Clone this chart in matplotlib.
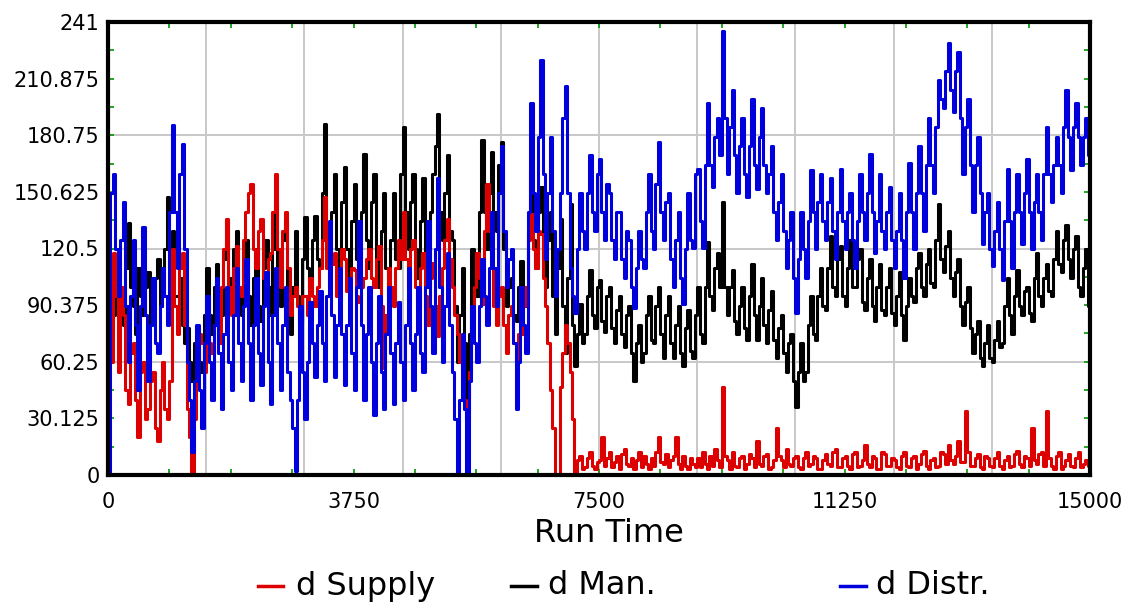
import numpy as np
import matplotlib.pyplot as plt
from matplotlib.lines import Line2D
from matplotlib.ticker import MultipleLocator, FixedLocator

# sample times (one value every 37.5 time units)
run_time = np.arange(0, 15000.1, 37.5)

# values, one row per grid cell of 1500 (40 values each) + final point
d_supply = [
    90, 60, 118, 95, 55, 100, 85, 45, 38, 65, 70, 40, 20, 55, 60, 30, 35, 50, 55, 25, 18, 45, 60, 35, 30, 50, 120, 90, 75, 110, 118, 80, 35, 20, 0, 30, 60, 75, 70, 55,
    80, 70, 65, 80, 82, 70, 100, 120, 136, 100, 85, 110, 122, 100, 95, 125, 140, 150, 155, 120, 110, 130, 136, 105, 95, 115, 118, 140, 160, 120, 100, 130, 140, 110, 85, 95, 100, 90, 82, 95,
    95, 85, 105, 95, 90, 100, 110, 125, 148, 110, 100, 112, 118, 95, 105, 120, 115, 98, 100, 110, 109, 95, 92, 100, 105, 115, 120, 105, 100, 115, 122, 90, 57, 85, 110, 100, 90, 110, 125, 115,
    140, 115, 100, 120, 125, 100, 90, 110, 118, 95, 80, 105, 113, 90, 74, 95, 110, 125, 136, 115, 100, 85, 75, 60, 50, 40, 29, 55, 80, 100, 118, 105, 91, 130, 155, 130, 110, 90, 80, 95,
    100, 80, 65, 85, 90, 70, 60, 75, 75, 90, 100, 125, 139, 120, 110, 130, 128, 105, 90, 70, 45, 25, 0, 0, 47, 65, 80, 70, 55, 30, 0, 8, 10, 3, 4, 9, 12, 5, 3, 7,
    8, 20, 5, 9, 12, 4, 7, 10, 3, 11, 14, 6, 5, 9, 3, 8, 12, 4, 10, 6, 3, 9, 5, 12, 20, 7, 6, 11, 4, 8, 10, 20, 6, 3, 10, 5, 3, 9, 6, 4,
    9, 4, 12, 6, 3, 10, 5, 14, 8, 4, 47, 10, 8, 3, 12, 5, 4, 9, 10, 3, 6, 11, 9, 4, 18, 6, 5, 10, 11, 3, 4, 8, 25, 10, 8, 4, 14, 6, 5, 9,
    10, 4, 3, 9, 12, 5, 6, 10, 9, 3, 3, 8, 11, 6, 5, 12, 14, 4, 4, 9, 10, 5, 3, 11, 12, 4, 5, 8, 16, 6, 4, 10, 9, 3, 3, 12, 11, 5, 5, 9,
    8, 4, 3, 10, 12, 5, 4, 9, 10, 3, 6, 11, 13, 5, 3, 8, 9, 4, 5, 12, 11, 6, 16, 8, 6, 10, 18, 7, 7, 34, 12, 5, 5, 9, 11, 4, 3, 10, 9, 5,
    4, 9, 12, 5, 3, 8, 10, 4, 5, 11, 13, 6, 4, 10, 9, 5, 25, 8, 6, 11, 12, 5, 34, 9, 5, 3, 10, 12, 3, 5, 8, 11, 5, 4, 9, 12, 4, 6, 8, 5,
    25]
d_man = [
    100, 75, 85, 105, 115, 90, 80, 110, 134, 100, 90, 75, 110, 95, 85, 100, 108, 80, 88, 105, 115, 90, 95, 120, 148, 110, 130, 95, 95, 105, 80, 70, 78, 60, 50, 70, 75, 60, 55, 85,
    110, 85, 75, 100, 112, 90, 85, 115, 135, 105, 90, 120, 130, 100, 85, 110, 125, 95, 80, 105, 120, 90, 82, 110, 125, 100, 85, 120, 145, 110, 90, 125, 135, 95, 75, 100, 130, 95, 80, 115,
    137, 110, 100, 125, 138, 115, 110, 150, 187, 130, 115, 140, 160, 120, 110, 145, 164, 120, 105, 135, 155, 115, 100, 140, 171, 125, 110, 145, 160, 115, 100, 130, 150, 110, 95, 125, 150, 115, 110, 160,
    185, 140, 120, 145, 160, 120, 105, 135, 158, 115, 100, 140, 160, 175, 192, 140, 125, 150, 170, 130, 125, 90, 60, 85, 110, 70, 40, 75, 120, 100, 95, 140, 178, 140, 120, 150, 172, 140, 130, 165,
    177, 120, 90, 100, 105, 85, 82, 100, 114, 95, 90, 130, 162, 125, 110, 140, 153, 115, 100, 125, 140, 95, 75, 110, 136, 90, 65, 105, 144, 80, 58, 75, 91, 70, 75, 95, 109, 85, 78, 100,
    104, 82, 76, 95, 100, 78, 70, 88, 95, 75, 68, 85, 90, 65, 50, 70, 80, 60, 65, 85, 95, 72, 70, 90, 100, 75, 62, 85, 95, 70, 62, 80, 90, 65, 58, 78, 88, 66, 62, 85,
    100, 75, 70, 100, 124, 95, 88, 110, 118, 100, 145, 100, 85, 100, 109, 82, 75, 90, 100, 78, 72, 95, 112, 85, 72, 90, 105, 80, 70, 88, 98, 72, 62, 78, 85, 65, 55, 70, 75, 50,
    36, 55, 70, 50, 55, 80, 95, 75, 72, 95, 110, 90, 88, 110, 127, 100, 95, 115, 122, 95, 90, 110, 125, 100, 100, 115, 120, 92, 88, 105, 115, 90, 82, 100, 112, 88, 85, 100, 110, 86,
    80, 95, 108, 85, 72, 90, 105, 95, 92, 110, 118, 100, 95, 112, 120, 102, 100, 125, 144, 115, 108, 122, 130, 105, 95, 108, 115, 90, 80, 92, 100, 78, 65, 75, 82, 62, 58, 70, 80, 62,
    60, 72, 82, 68, 70, 90, 105, 85, 75, 95, 109, 90, 85, 98, 100, 86, 82, 105, 118, 95, 90, 105, 112, 98, 95, 115, 130, 112, 108, 125, 133, 115, 105, 120, 127, 100, 95, 110, 120, 90,
    85]
d_distr = [
    0, 150, 160, 120, 95, 125, 145, 90, 60, 95, 125, 80, 45, 90, 132, 85, 50, 80, 105, 70, 65, 90, 110, 95, 80, 140, 186, 140, 110, 160, 176, 120, 60, 40, 12, 50, 80, 45, 25, 70,
    95, 60, 40, 80, 105, 65, 35, 75, 100, 60, 45, 85, 110, 70, 50, 90, 115, 70, 40, 80, 105, 65, 48, 90, 108, 60, 38, 85, 110, 70, 45, 80, 100, 55, 40, 25, 2, 40, 90, 55,
    30, 60, 92, 70, 52, 80, 98, 70, 50, 95, 135, 85, 52, 80, 110, 75, 48, 80, 105, 65, 45, 100, 135, 80, 40, 75, 100, 60, 32, 70, 95, 55, 35, 75, 100, 65, 38, 70, 92, 60,
    40, 80, 110, 70, 45, 75, 100, 65, 55, 100, 135, 90, 65, 120, 158, 100, 60, 90, 118, 80, 55, 30, 0, 40, 75, 35, 0, 50, 90, 70, 60, 90, 115, 95, 80, 110, 140, 110, 90, 150,
    175, 130, 100, 115, 120, 70, 35, 60, 100, 80, 65, 140, 198, 150, 130, 180, 221, 160, 115, 150, 180, 130, 95, 120, 150, 190, 207, 150, 110, 95, 86, 120, 150, 130, 120, 150, 170, 140, 130, 160,
    168, 140, 125, 155, 150, 125, 115, 140, 140, 115, 105, 130, 125, 100, 89, 110, 130, 115, 110, 140, 160, 130, 120, 155, 177, 140, 125, 145, 150, 115, 100, 125, 140, 105, 91, 120, 150, 125, 121, 160,
    163, 135, 121, 165, 198, 165, 153, 180, 190, 170, 236, 190, 160, 185, 205, 170, 150, 175, 190, 160, 148, 175, 200, 165, 152, 180, 195, 165, 150, 160, 175, 140, 125, 145, 160, 130, 110, 125, 140, 105,
    86, 115, 140, 120, 105, 135, 162, 140, 120, 145, 160, 135, 125, 145, 158, 130, 115, 140, 163, 135, 120, 140, 150, 125, 110, 135, 160, 140, 125, 150, 171, 140, 118, 135, 160, 130, 120, 140, 153, 125,
    110, 130, 150, 125, 105, 140, 166, 140, 120, 150, 175, 150, 130, 165, 190, 165, 150, 185, 210, 200, 195, 215, 230, 205, 193, 215, 225, 190, 160, 185, 200, 165, 140, 165, 180, 150, 123, 140, 150, 120,
    111, 130, 145, 120, 104, 135, 163, 135, 110, 140, 160, 140, 123, 150, 168, 140, 120, 145, 160, 140, 125, 160, 185, 160, 145, 165, 180, 165, 150, 185, 205, 180, 162, 185, 198, 180, 165, 180, 190, 170,
    165]

x_ticks = [0, 3750, 7500, 11250, 15000]
y_ticks = [0, 30.125, 60.25, 90.375, 120.5, 150.625, 180.75, 210.875, 241]
y_labels = ['0', '30.125', '60.25', '90.375', '120.5', '150.625', '180.75', '210.875', '241']

series_names = ['d Supply', 'd Man.', 'd Distr.']
series_colors = ['#dd0000', '#000000', '#0000dd']

W, H = 1138, 608
fig = plt.figure(figsize=(W / 100, H / 100), dpi=100)
ax = fig.add_axes([108 / W, 133 / H, 982 / W, 453 / H])

# light grey grid (every 1500 / every 60.25)
for gx in range(1500, 15000, 1500):
    ax.axvline(gx, color='#c8c8c8', lw=1.4, zorder=0.5)
for gy in [60.25, 120.5, 180.75]:
    ax.axhline(gy, color='#c8c8c8', lw=1.4, zorder=0.5)

lw = 2.2
ax.plot(run_time, d_man, color=series_colors[1], lw=lw, drawstyle='steps-post', zorder=2)
ax.plot(run_time, d_supply, color=series_colors[0], lw=lw, drawstyle='steps-post', zorder=3)
ax.plot(run_time, d_distr, color=series_colors[2], lw=lw, drawstyle='steps-post', zorder=4)

ax.set_xlim(0, 15000)
ax.set_ylim(0, 241)
ax.xaxis.set_major_locator(FixedLocator(x_ticks))
ax.xaxis.set_minor_locator(MultipleLocator(937.5))
ax.set_yticks(y_ticks, y_labels)
ax.yaxis.set_minor_locator(MultipleLocator(15.0625))
ax.tick_params(which='both', direction='in', color='#009600', length=4, width=1.2,
               top=True, right=True, labelsize=15)
ax.tick_params(axis='x', pad=12)
ax.tick_params(axis='y', pad=6)

for sp in ax.spines.values():
    sp.set_linewidth(3)
    sp.set_color('black')
    sp.set_zorder(5)

fig.text(609 / W, 1 - 534 / H, 'Run Time', fontsize=23, ha='center', va='center')

# legend row
leg_y = 1 - 586 / H
line_x = [(258, 283), (511, 537), (840, 866)]
text_x = [296, 548, 876]
for (x0, x1), tx, name, col in zip(line_x, text_x, series_names, series_colors):
    fig.add_artist(Line2D([x0 / W, x1 / W], [leg_y, leg_y], transform=fig.transFigure,
                          color=col, lw=2.5))
    fig.text(tx / W, leg_y, name, fontsize=23, ha='left', va='center')

fig.savefig('out.png', dpi=100)
